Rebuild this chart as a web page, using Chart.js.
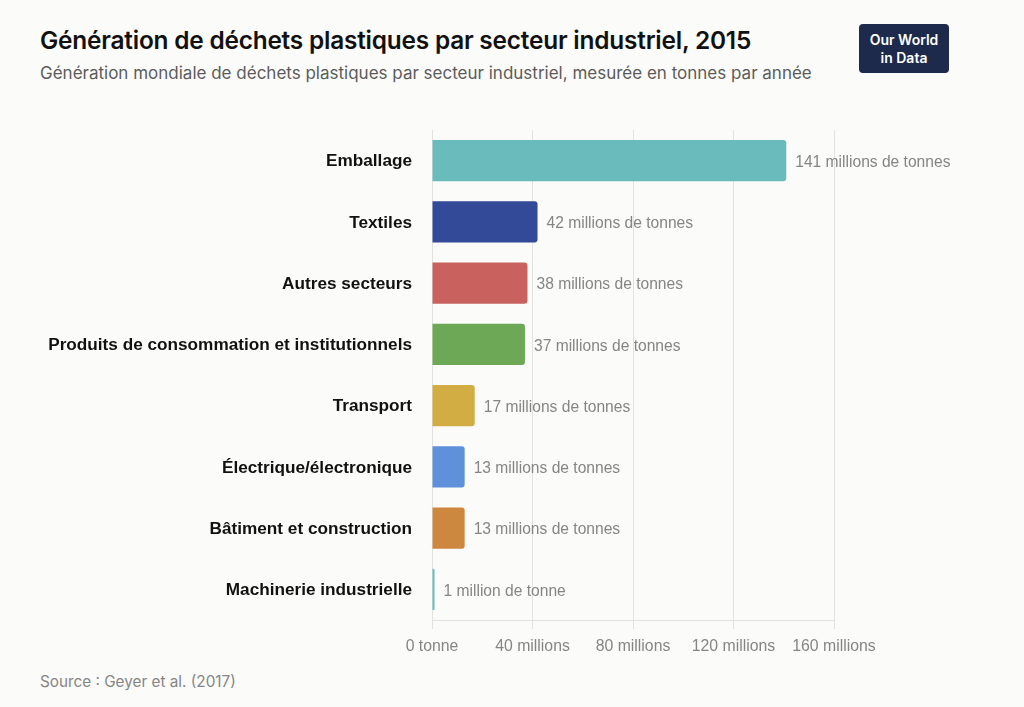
<!DOCTYPE html>
<html>
<head>
<meta charset="utf-8">
<script src="https://cdn.jsdelivr.net/npm/chart.js@4"></script>
<style>
  html, body { margin:0; padding:0; background:#fbfbf9; }
  body { width:1024px; height:707px; position:relative; overflow:hidden; font-family: Inter, "Noto Sans", sans-serif; }
  #title { position:absolute; left:40px; top:25px; font-size:24.4px; font-weight:600; color:#111; letter-spacing:-0.2px; white-space:nowrap; }
  #subtitle { position:absolute; left:40px; top:63px; font-size:17px; color:#5b5b5b; white-space:nowrap; }
  #source { position:absolute; left:40px; top:672px; font-size:15.3px; color:#858585; white-space:nowrap; }
  #logo { position:absolute; left:859px; top:24px; width:90px; height:49px; background:#1d2a4b; border-radius:4px; color:#fff; font-size:14px; font-weight:600; line-height:18px; text-align:center; display:flex; align-items:center; justify-content:center; }
  #wrap { position:absolute; left:0; top:0; width:1024px; height:707px; }
</style>
</head>
<body>
<div id="title">Génération de déchets plastiques par secteur industriel, 2015</div>
<div id="subtitle">Génération mondiale de déchets plastiques par secteur industriel, mesurée en tonnes par année</div>
<div id="logo">Our World<br>in Data</div>
<div id="source">Source : Geyer et al. (2017)</div>
<div id="wrap"><canvas id="c"></canvas></div>
<script>
const categories = ['Emballage','Textiles','Autres secteurs','Produits de consommation et institutionnels','Transport','Électrique/électronique','Bâtiment et construction','Machinerie industrielle'];
const values = [141, 42, 38, 37, 17, 13, 13, 1]; // millions de tonnes
const colors = ['#6abbbc','#334a98','#c9625e','#6ca856','#d2ad43','#5f91da','#cd873e','#6abbbc'];
const tickValues = [0, 40, 80, 120, 160];
const tickLabels = ['0 tonne','40 millions','80 millions','120 millions','160 millions'];
const valueLabels = ['141 millions de tonnes','42 millions de tonnes','38 millions de tonnes','37 millions de tonnes','17 millions de tonnes','13 millions de tonnes','13 millions de tonnes','1 million de tonne'];

const valueLabelPlugin = {
  id: 'valueLabels',
  afterDatasetsDraw(chart) {
    const ctx = chart.ctx;
    const meta = chart.getDatasetMeta(0);
    ctx.save();
    ctx.font = '15.6px "Liberation Sans", Arial, sans-serif';
    ctx.fillStyle = '#858585';
    ctx.textAlign = 'left';
    ctx.textBaseline = 'middle';
    meta.data.forEach((bar, i) => {
      ctx.fillText(valueLabels[i], bar.x + 9, bar.y + 2);
    });
    ctx.restore();
  }
};

new Chart(document.getElementById('c'), {
  type: 'bar',
  data: {
    labels: categories,
    datasets: [{
      data: values,
      backgroundColor: colors,
      borderRadius: 3,
      borderSkipped: 'start',
      barPercentage: 0.67,
      categoryPercentage: 1.0
    }]
  },
  options: {
    indexAxis: 'y',
    responsive: true,
    maintainAspectRatio: false,
    animation: false,
    layout: { padding: { top: 130, right: 190, bottom: 0, left: 0 } },
    plugins: { legend: { display: false }, tooltip: { enabled: false } },
    scales: {
      x: {
        min: 0, max: 160,
        afterFit(scale) { scale.height = 87; },
        afterBuildTicks(scale) { scale.ticks = tickValues.map(v => ({ value: v })); },
        ticks: {
          callback: (v, i) => tickLabels[i],
          color: '#858585',
          font: { family: '"Liberation Sans", Arial, sans-serif', size: 15.8 },
          padding: 8,
          maxRotation: 0
        },
        grid: { color: '#e2e2df', lineWidth: 1, tickLength: 9, drawTicks: true },
        border: { display: true, color: '#e2e2df' }
      },
      y: {
        afterFit(scale) { scale.width = 432; },
        ticks: {
          color: '#111',
          font: { family: '"Liberation Sans", Arial, sans-serif', size: 17.2, weight: 'bold' },
          padding: 20,
          labelOffset: 1
        },
        grid: { display: false, drawTicks: false },
        border: { display: false }
      }
    }
  },
  plugins: [valueLabelPlugin]
});
</script>
</body>
</html>
